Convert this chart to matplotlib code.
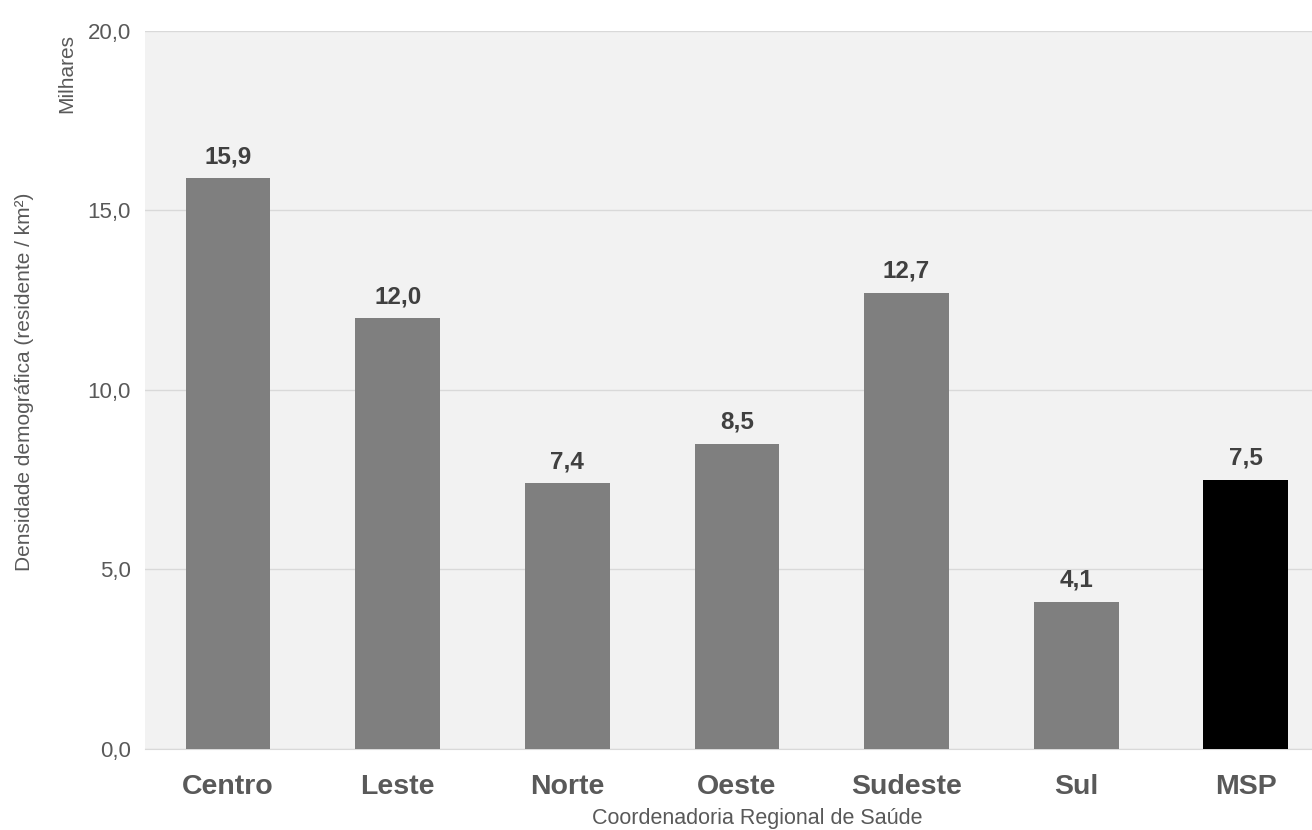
import matplotlib.pyplot as plt

plt.rcParams['font.family'] = ['Liberation Sans', 'DejaVu Sans']

regioes = ['Centro', 'Leste', 'Norte', 'Oeste', 'Sudeste', 'Sul', 'MSP']
densidade = [15.9, 12.0, 7.4, 8.5, 12.7, 4.1, 7.5]
cores = ['#7f7f7f'] * 6 + ['#000000']
yticks = [0, 5, 10, 15, 20]

fig = plt.figure(figsize=(13.12, 8.3), dpi=100)
ax = fig.add_axes([0.1105, 0.0976, 0.8895, 0.8651])
ax.set_facecolor('#f2f2f2')

x = list(range(len(regioes)))
ax.bar(x, densidade, width=0.5, color=cores, zorder=3)

for xi, v in zip(x, densidade):
    ax.text(xi, v + 0.28, f'{v:.1f}'.replace('.', ','), ha='center', va='bottom',
            fontsize=17.5, fontweight='bold', color='#404040', zorder=4)

ax.set_ylim(0, 20)
ax.set_xlim(-0.49, 6.39)
ax.set_yticks(yticks)
ax.set_yticklabels([f'{t:.1f}'.replace('.', ',') for t in yticks], fontsize=16, color='#595959')
ax.set_xticks(x)
ax.set_xticklabels(regioes, fontsize=20.5, fontweight='bold', color='#595959')
ax.tick_params(axis='both', length=0)
ax.tick_params(axis='x', pad=18)
ax.tick_params(axis='y', pad=10)
ax.grid(axis='y', color='#d9d9d9', linewidth=1, zorder=0)

for s in ['top', 'right', 'left']:
    ax.spines[s].set_visible(False)
ax.spines['bottom'].set_color('#d9d9d9')

fig.text(0.5775, 0.001, 'Coordenadoria Regional de Saúde', ha='center', va='bottom',
         fontsize=15.5, color='#595959')
fig.text(0.019, 0.54, 'Densidade demográfica (residente / km²)', rotation=90,
         ha='center', va='center', fontsize=15, color='#595959')
fig.text(0.051, 0.912, 'Milhares', rotation=90, ha='center', va='center',
         fontsize=15, color='#595959')

fig.savefig('out.png', dpi=100)
